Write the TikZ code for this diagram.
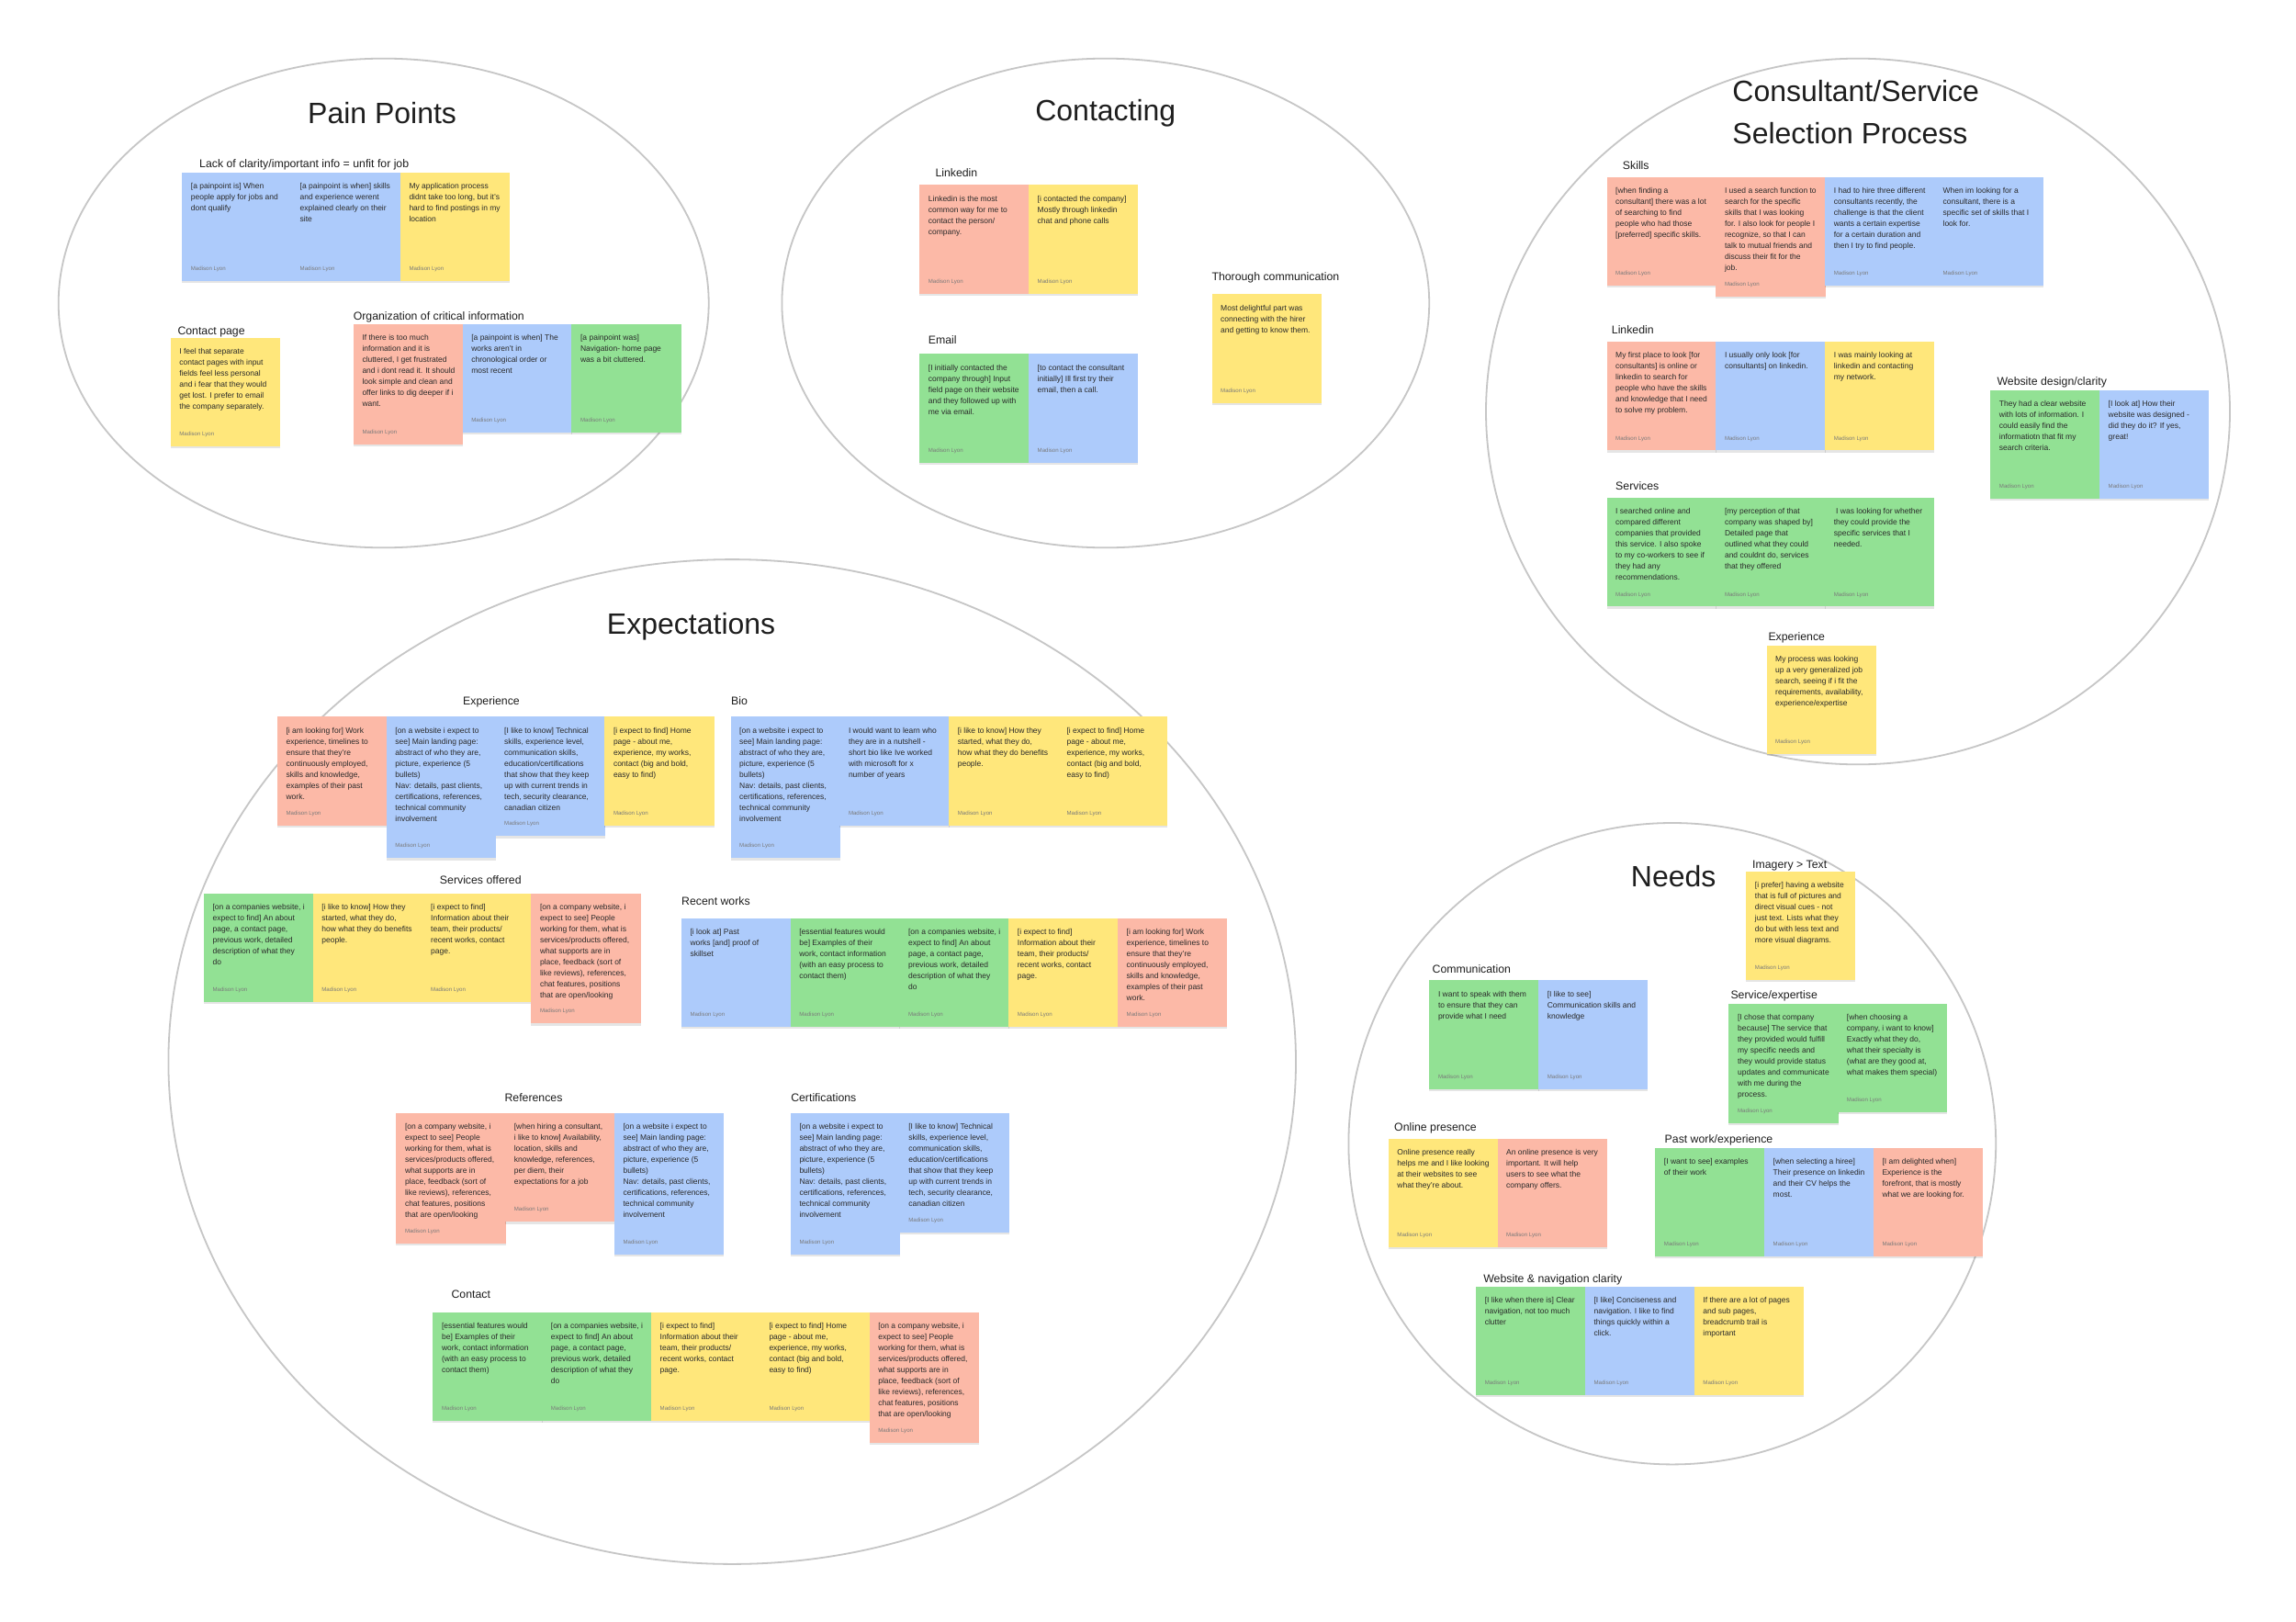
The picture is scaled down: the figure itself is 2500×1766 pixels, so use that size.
\documentclass[tikz,border=0pt]{standalone}
\usepackage{fontspec}
\setmainfont{Liberation Sans}
\usetikzlibrary{shadows}
\definecolor{sred}{HTML}{FCB9A7}
\definecolor{sblue}{HTML}{ADCBFB}
\definecolor{syellow}{HTML}{FFE77B}
\definecolor{sgreen}{HTML}{92E194}
\definecolor{ink}{HTML}{1E1E1E}
\definecolor{stxt}{HTML}{2A2A2A}
\definecolor{sauth}{HTML}{7A7A7A}
\definecolor{ring}{HTML}{C6C6C6}
\tikzset{
  stickybox/.style={rectangle, anchor=north west, inner sep=0pt, minimum width=119.2pt, draw=none,
    drop shadow={shadow xshift=0pt, shadow yshift=-2.5pt, opacity=0.10, fill=black}},
  stickytext/.style={anchor=north west, inner sep=0pt, align=left, text=stxt, font=\fontsize{8.5}{12}\selectfont},
  stickyauthor/.style={anchor=base west, inner sep=0pt, text=sauth, font=\fontsize{6.1}{7}\selectfont},
  grouplabel/.style={anchor=base west, inner sep=0pt, text=ink, font=\fontsize{12.3}{14}\selectfont},
  titlelbl/.style={anchor=base, inner sep=0pt, text=ink, font=\fontsize{32}{38}\selectfont},
  ringline/.style={draw=ring, line width=1.8pt}
}
\newcommand{\stk}[6]{%
  \node[stickybox,fill=#5,minimum height=#4pt] (#1) at (#2,#3) {};
  \node[stickytext] (#1t) at ([xshift=9.7pt,yshift=-11.2pt]#1.north west) {\rule{0pt}{6.8pt}#6};
  \node[stickyauthor] (#1a) at ([xshift=9.7pt,yshift=11.5pt]#1.south west) {Madison Lyon};
}
\newcommand{\qtxA}{[i am looking for] Work\\experience, timelines to\\ensure that they're\\continuously employed,\\skills and knowledge,\\examples of their past\\work.}
\newcommand{\qtxB}{[on a website i expect to\\see] Main landing page:\\abstract of who they are,\\picture, experience (5\\bullets)\\Nav: details, past clients,\\certifications, references,\\technical community\\involvement}
\newcommand{\qtxC}{[I like to know] Technical\\skills, experience level,\\communication skills,\\education/certifications\\that show that they keep\\up with current trends in\\tech, security clearance,\\canadian citizen}
\newcommand{\qtxD}{[i expect to find] Home\\page - about me,\\experience, my works,\\contact (big and bold,\\easy to find)}
\newcommand{\qtxE}{[i like to know] How they\\started, what they do,\\how what they do benefits\\people.}
\newcommand{\qtxF}{[on a companies website, i\\expect to find] An about\\page, a contact page,\\previous work, detailed\\description of what they\\do}
\newcommand{\qtxG}{[i expect to find]\\Information about their\\team, their products/\\recent works, contact\\page.}
\newcommand{\qtxH}{[on a company website, i\\expect to see] People\\working for them, what is\\services/products offered,\\what supports are in\\place, feedback (sort of\\like reviews), references,\\chat features, positions\\that are open/looking}
\newcommand{\qtxI}{[essential features would\\be] Examples of their\\work, contact information\\(with an easy process to\\contact them)}
\begin{document}
\begin{tikzpicture}[x=1pt,y=-1pt]
\fill[white] (0,0) rectangle (2500,1766);
\useasboundingbox (0,0) rectangle (2500,1766);

% group rings
\draw[ringline] (417.7,330) ellipse [x radius=354pt, y radius=266.3pt];
\draw[ringline] (1203.8,330) ellipse [x radius=352.4pt, y radius=266.3pt];
\draw[ringline] (2023,448) ellipse [x radius=405pt, y radius=384.3pt];
\draw[ringline] (797.2,1156) ellipse [x radius=613.8pt, y radius=546.9pt];
\draw[ringline] (1820.8,1245.2) ellipse [x radius=352.4pt, y radius=349.2pt];

% titles
\node[titlelbl] (tpain) at (416.1,134.3) {Pain Points};
\node[titlelbl] (tcont) at (1203.8,131.1) {Contacting};
\node[titlelbl,anchor=base west] (tconsa) at (1886.2,110.4) {Consultant/Service};
\node[titlelbl,anchor=base west] (tconsb) at (1886.2,156.6) {Selection Process};
\node[titlelbl] (texp) at (752.6,690.7) {Expectations};
\node[titlelbl] (tneeds) at (1822.2,965.5) {Needs};

% ---------------- Pain Points
\node[grouplabel] (lpa) at (217,182.5) {Lack of clarity/important info = unfit for job};
\node[grouplabel] (lpb) at (193.3,364.7) {Contact page};
\node[grouplabel] (lpc) at (384.6,348.3) {Organization of critical information};
\stk{pa}{198}{187.3}{118.4}{sblue}{[a painpoint is] When\\people apply for jobs and\\dont qualify}
\stk{pb}{316.8}{187.3}{118.4}{sblue}{[a painpoint is when] skills\\and experience werent\\explained clearly on their\\site}
\stk{pc}{435.6}{187.3}{118.4}{syellow}{My application process\\didnt take too long, but it's\\hard to find postings in my\\location}
\stk{pd}{185.5}{367.3}{118.4}{syellow}{I feel that separate\\contact pages with input\\fields feel less personal\\and i fear that they would\\get lost. I prefer to email\\the company separately.}
\stk{pe}{384.6}{352.3}{131}{sred}{If there is too much\\information and it is\\cluttered, I get frustrated\\and i dont read it. It should\\look simple and clean and\\offer links to dig deeper if i\\want.}
\stk{pf}{503.4}{352.3}{118.4}{sblue}{[a painpoint is when] The\\works aren't in\\chronological order or\\most recent}
\stk{pg}{622.2}{352.3}{118.4}{sgreen}{[a painpoint was]\\Navigation- home page\\was a bit cluttered.}

% ---------------- Contacting
\node[grouplabel] (lca) at (1018.3,192.3) {Linkedin};
\node[grouplabel] (lcb) at (1010.7,374) {Email};
\node[grouplabel] (lcc) at (1319.3,305.7) {Thorough communication};
\stk{ca}{1001}{201}{118.4}{sred}{Linkedin is the most\\common way for me to\\contact the person/\\company.}
\stk{cb}{1119.8}{201}{118.4}{syellow}{[i contacted the company]\\Mostly through linkedin\\chat and phone calls}
\stk{cc}{1001}{385}{118.4}{sgreen}{[I initially contacted the\\company through] Input\\field page on their website\\and they followed up with\\me via email.}
\stk{cd}{1119.8}{385}{118.4}{sblue}{[to contact the consultant\\initially] Ill first try their\\email, then a call.}
\stk{ce}{1319.3}{320}{118.4}{syellow}{Most delightful part was\\connecting with the hirer\\and getting to know them.}

% ---------------- Consultant / Service Selection Process
\node[grouplabel] (lsa) at (1766.7,184.7) {Skills};
\node[grouplabel] (lsb) at (1754.7,363.3) {Linkedin};
\node[grouplabel] (lsc) at (1759,533) {Services};
\node[grouplabel] (lsd) at (2174.3,419.5) {Website design/clarity};
\node[grouplabel] (lse) at (1925.3,697.3) {Experience};
\stk{sa}{1749.3}{192.7}{118}{sred}{[when finding a\\consultant] there was a lot\\of searching to find\\people who had those\\{}[preferred] specific skills.}
\stk{sb}{1868.1}{192.7}{130}{sred}{I used a search function to\\search for the specific\\skills that I was looking\\for. I also look for people I\\recognize, so that I can\\talk to mutual friends and\\discuss their fit for the\\job.}
\stk{sc}{1986.9}{192.7}{118}{sblue}{I had to hire three different\\consultants recently, the\\challenge is that the client\\wants a certain expertise\\for a certain duration and\\then I try to find people.}
\stk{sd}{2105.7}{192.7}{118}{sblue}{When im looking for a\\consultant, there is a\\specific set of skills that I\\look for.}
\stk{se}{1749.3}{371.7}{118.4}{sred}{My first place to look [for\\consultants] is online or\\linkedin to search for\\people who have the skills\\and knowledge that I need\\to solve my problem.}
\stk{sf}{1868.1}{371.7}{118.4}{sblue}{I usually only look [for\\consultants] on linkedin.}
\stk{sg}{1986.9}{371.7}{118.4}{syellow}{I was mainly looking at\\linkedin and contacting\\my network.}
\stk{sh}{1749.3}{541.7}{118.4}{sgreen}{I searched online and\\compared different\\companies that provided\\this service. I also spoke\\to my co-workers to see if\\they had any\\recommendations.}
\stk{si}{1868.1}{541.7}{118.4}{sgreen}{[my perception of that\\company was shaped by]\\Detailed page that\\outlined what they could\\and couldnt do, services\\that they offered}
\stk{sj}{1986.9}{541.7}{118.4}{sgreen}{\ I was looking for whether\\they could provide the\\specific services that I\\needed.}
\stk{sk}{2167}{424.3}{118.4}{sgreen}{They had a clear website\\with lots of information. I\\could easily find the\\informatiotn that fit my\\search criteria.}
\stk{sl}{2285.8}{424.3}{118.4}{sblue}{[I look at] How their\\website was designed -\\did they do it? If yes,\\great!}
\stk{sm}{1923.3}{702.3}{118.4}{syellow}{My process was looking\\up a very generalized job\\search, seeing if i fit the\\requirements, availability,\\experience/expertise}

% ---------------- Expectations
\node[grouplabel,anchor=base] (lea) at (535,767.3) {Experience};
\node[grouplabel] (leb) at (796,767.3) {Bio};
\node[grouplabel,anchor=base] (lec) at (523.3,962.3) {Services offered};
\node[grouplabel] (led) at (742,985) {Recent works};
\node[grouplabel,anchor=base] (lee) at (581,1199) {References};
\node[grouplabel,anchor=base] (lef) at (896.8,1199) {Certifications};
\node[grouplabel] (leg) at (491.4,1413.3) {Contact};
\stk{ea}{301.7}{780}{118.3}{sred}{\qtxA}
\stk{eb}{420.5}{780}{154}{sblue}{\qtxB}
\stk{ec}{539.3}{780}{130}{sblue}{\qtxC}
\stk{ed}{658.1}{780}{118.3}{syellow}{\qtxD}
\stk{ba}{795.3}{780}{154}{sblue}{\qtxB}
\stk{bb}{914.1}{780}{118.3}{sblue}{I would want to learn who\\they are in a nutshell -\\short bio like Ive worked\\with microsoft for x\\number of years}
\stk{bc}{1032.9}{780}{118.3}{syellow}{\qtxE}
\stk{bd}{1151.7}{780}{118.3}{syellow}{\qtxD}
\stk{oa}{221.7}{972.3}{118}{sgreen}{\qtxF}
\stk{ob}{340.5}{972.3}{118}{syellow}{\qtxE}
\stk{oc}{459.3}{972.3}{118}{syellow}{\qtxG}
\stk{od}{578.1}{972.3}{141.7}{sred}{\qtxH}
\stk{ra}{741.6}{999.3}{118.4}{sblue}{[i look at] Past\\works [and] proof of\\skillset}
\stk{rb}{860.4}{999.3}{118.4}{sgreen}{\qtxI}
\stk{rc}{979.2}{999.3}{118.4}{sgreen}{\qtxF}
\stk{rd}{1098}{999.3}{118.4}{syellow}{\qtxG}
\stk{re}{1216.8}{999.3}{118.4}{sred}{\qtxA}
\stk{fa}{431.1}{1211.7}{141.6}{sred}{\qtxH}
\stk{fb}{549.9}{1211.7}{118.3}{sred}{[when hiring a consultant,\\i like to know] Availability,\\location, skills and\\knowledge, references,\\per diem, their\\expectations for a job}
\stk{fc}{668.7}{1211.7}{154}{sblue}{\qtxB}
\stk{ga}{860.6}{1211.7}{154}{sblue}{\qtxB}
\stk{gb}{979.4}{1211.7}{130}{sblue}{\qtxC}
\stk{ka}{471.2}{1428.3}{118.4}{sgreen}{\qtxI}
\stk{kb}{590}{1428.3}{118.4}{sgreen}{\qtxF}
\stk{kc}{708.8}{1428.3}{118.4}{syellow}{\qtxG}
\stk{kd}{827.6}{1428.3}{118.4}{syellow}{\qtxD}
\stk{ke}{946.4}{1428.3}{142.4}{sred}{\qtxH}

% ---------------- Needs
\node[grouplabel] (lna) at (1908,945.7) {Imagery > Text};
\node[grouplabel] (lnb) at (1559.4,1059) {Communication};
\node[grouplabel] (lnc) at (1884.3,1087.7) {Service/expertise};
\node[grouplabel] (lnd) at (1518,1231.7) {Online presence};
\node[grouplabel] (lne) at (1812.5,1244.7) {Past work/experience};
\node[grouplabel] (lnf) at (1615.1,1396.7) {Website \& navigation clarity};
\stk{na}{1901}{948.3}{118.4}{syellow}{[i prefer] having a website\\that is full of pictures and\\direct visual cues - not\\just text. Lists what they\\do but with less text and\\more visual diagrams.}
\stk{nb}{1556.1}{1067}{118.4}{sgreen}{I want to speak with them\\to ensure that they can\\provide what I need}
\stk{nc}{1674.9}{1067}{118.4}{sblue}{[I like to see]\\Communication skills and\\knowledge}
\stk{nd}{1882.2}{1092.3}{130}{sgreen}{[I chose that company\\because] The service that\\they provided would fulfill\\my specific needs and\\they would provide status\\updates and communicate\\with me during the\\process.}
\stk{ne}{2001}{1092.3}{118.4}{sgreen}{[when choosing a\\company, i want to know]\\Exactly what they do,\\what their specialty is\\(what are they good at,\\what makes them special)}
\stk{nf}{1511.5}{1239.3}{118.4}{syellow}{Online presence really\\helps me and I like looking\\at their websites to see\\what they're about.}
\stk{ng}{1630.3}{1239.3}{118.4}{sred}{An online presence is very\\important. It will help\\users to see what the\\company offers.}
\stk{nh}{1802}{1249.3}{118.4}{sgreen}{[I want to see] examples\\of their work}
\stk{ni}{1920.8}{1249.3}{118.4}{sblue}{[when selecting a hiree]\\Their presence on linkedin\\and their CV helps the\\most.}
\stk{nj}{2039.6}{1249.3}{118.4}{sred}{[I am delighted when]\\Experience is the\\forefront, that is mostly\\what we are looking for.}
\stk{nk}{1606.9}{1400.3}{118.4}{sgreen}{[I like when there is] Clear\\navigation, not too much\\clutter}
\stk{nl}{1725.7}{1400.3}{118.4}{sblue}{[I like] Conciseness and\\navigation. I like to find\\things quickly within a\\click.}
\stk{nm}{1844.5}{1400.3}{118.4}{syellow}{If there are a lot of pages\\and sub pages,\\breadcrumb trail is\\important}
\end{tikzpicture}
\end{document}
